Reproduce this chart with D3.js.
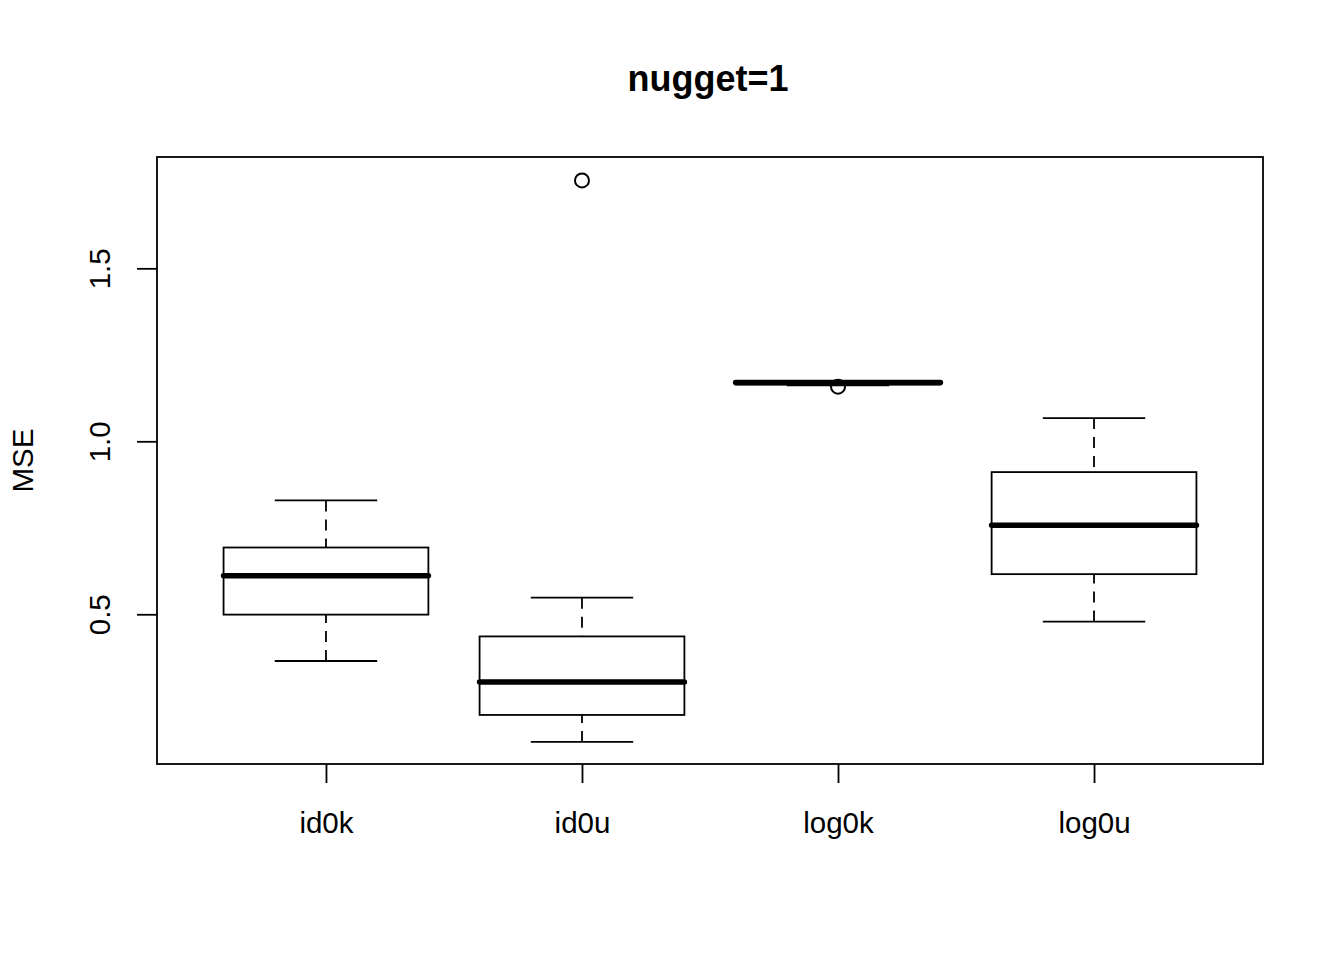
<!DOCTYPE html>
<html>
<head>
<meta charset="utf-8">
<script src="https://cdn.jsdelivr.net/npm/d3@7"></script>
<style>
body { margin: 0; background: #fff; }
svg { display: block; font-family: "Liberation Sans", Arial, Helvetica, sans-serif; }
</style>
</head>
<body>
<svg id="chart" width="1344" height="960"></svg>
<script>
const categories = ["id0k", "id0u", "log0k", "log0u"];
const whiskerLow  = [0.365, 0.131, 1.162, 0.479];
const q1          = [0.499, 0.209, 1.164, 0.616];
const median      = [0.611, 0.304, 1.170, 0.757];
const q3          = [0.693, 0.436, 1.171, 0.911];
const whiskerHigh = [0.829, 0.548, 1.172, 1.067];
const outliers = [[], [1.754], [1.158], []];
const yTicks = [0.5, 1.0, 1.5];
const title = "nugget=1";
const yLabel = "MSE";

(function () {
const svg = d3.select("#chart");
const pL = 157, pR = 1263, pT = 157, pB = 764;
const lw = 1.8;

const x = d3.scaleLinear().domain([0.34, 4.66]).range([pL, pR]);
const y = d3.scaleLinear().domain([0.0672, 1.8218]).range([pB, pT]);

const boxHalf = 0.4, capHalf = 0.2;

svg.append("rect").attr("x", pL).attr("y", pT)
  .attr("width", pR - pL).attr("height", pB - pT)
  .attr("fill", "none").attr("stroke", "#000").attr("stroke-width", lw);

const data = categories.map((c, i) => ({c, i: i + 1, lo: whiskerLow[i], q1: q1[i], med: median[i], q3: q3[i], hi: whiskerHigh[i], out: outliers[i]}));
const g = svg.append("g");
data.forEach(d => {
  const xc = x(d.i);
  const dash = "11,8";
  g.append("line").attr("x1", xc).attr("x2", xc).attr("y1", y(d.lo)).attr("y2", y(d.q1))
    .attr("stroke", "#000").attr("stroke-width", lw).attr("stroke-dasharray", dash);
  g.append("line").attr("x1", xc).attr("x2", xc).attr("y1", y(d.hi)).attr("y2", y(d.q3))
    .attr("stroke", "#000").attr("stroke-width", lw).attr("stroke-dasharray", dash);
  [d.lo, d.hi].forEach(v => {
    g.append("line").attr("x1", x(d.i - capHalf)).attr("x2", x(d.i + capHalf))
      .attr("y1", y(v)).attr("y2", y(v)).attr("stroke", "#000").attr("stroke-width", lw);
  });
  g.append("rect").attr("x", x(d.i - boxHalf)).attr("width", x(d.i + boxHalf) - x(d.i - boxHalf))
    .attr("y", y(d.q3)).attr("height", Math.max(0.5, y(d.q1) - y(d.q3)))
    .attr("fill", "#fff").attr("stroke", "#000").attr("stroke-width", lw);
  g.append("line").attr("x1", x(d.i - boxHalf)).attr("x2", x(d.i + boxHalf))
    .attr("y1", y(d.med)).attr("y2", y(d.med))
    .attr("stroke", "#000").attr("stroke-width", 5.5).attr("stroke-linecap", "round");
  d.out.forEach(v => {
    g.append("circle").attr("cx", xc).attr("cy", y(v)).attr("r", 7)
      .attr("fill", "none").attr("stroke", "#000").attr("stroke-width", 2);
  });
});

// y axis
const yAxis = d3.axisLeft(y).tickValues(yTicks).tickFormat(d3.format(".1f")).tickSize(20).tickPadding(0);
const ya = svg.append("g").attr("transform", `translate(${pL},0)`).call(yAxis);
ya.select(".domain").remove();
ya.selectAll(".tick line").attr("stroke-width", lw);
ya.selectAll(".tick text").attr("font-size", 29.5).attr("fill", "#000")
  .attr("text-anchor", "middle").attr("x", 0).attr("dy", null)
  .attr("transform", "translate(-47,0) rotate(-90)");

// x axis
const xAxis = d3.axisBottom(x).tickValues(categories.map((c, i) => i + 1))
  .tickFormat((d) => categories[d - 1]).tickSize(19).tickPadding(0);
const xa = svg.append("g").attr("transform", `translate(0,${pB})`).call(xAxis);
xa.select(".domain").remove();
xa.selectAll(".tick line").attr("stroke-width", lw);
xa.selectAll(".tick text").attr("font-size", 29.5).attr("fill", "#000")
  .attr("y", 69).attr("dy", null);

// title
svg.append("text").attr("x", 708).attr("y", 91)
  .attr("text-anchor", "middle")
  .attr("font-size", 36).attr("font-weight", "bold").text(title);

// y label
svg.append("text").attr("transform", `translate(33,${(pT + pB) / 2}) rotate(-90)`)
  .attr("text-anchor", "middle")
  .attr("font-size", 29.5).text(yLabel);
})();
</script>
</body>
</html>
